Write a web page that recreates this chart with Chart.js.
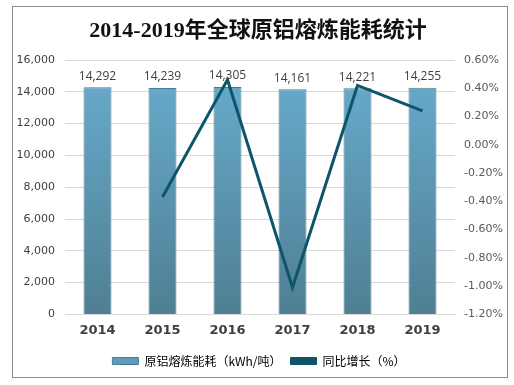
<!DOCTYPE html>
<html>
<head>
<meta charset="utf-8">
<script src="https://cdn.jsdelivr.net/npm/chart.js@4"></script>
<style>
  html, body { margin: 0; padding: 0; background: #fff; }
  #wrap { width: 514px; height: 385px; }
</style>
</head>
<body>
<div id="wrap"><canvas id="c" width="514" height="385"></canvas></div>
<script>
// chart values
const years = ['2014', '2015', '2016', '2017', '2018', '2019'];
const energyUse = [14292, 14239, 14305, 14161, 14221, 14255];
const yoyGrowth = [null, -0.37, 0.46, -1.01, 0.42, 0.24];
const leftTicks = [0, 2000, 4000, 6000, 8000, 10000, 12000, 14000, 16000];
const rightTicks = [-1.2, -1.0, -0.8, -0.6, -0.4, -0.2, 0, 0.2, 0.4, 0.6];

const title = '2014-2019年全球原铝熔炼能耗统计';
const barLabel = '原铝熔炼能耗（kWh/吨）';
const lineLabel = '同比增长（%）';

const lineColor = '#0d5569';

function barGradient(ctx) {
  const area = ctx.chart.chartArea;
  if (!area) return '#5f9ab6';
  const g = ctx.chart.ctx.createLinearGradient(0, area.top, 0, area.bottom);
  g.addColorStop(0, '#69adcf');
  g.addColorStop(1, '#4f7f93');
  return g;
}

// frame + title + value labels
const decor = {
  id: 'decor',
  beforeDraw(chart) {
    const c = chart.ctx;
    c.save();
    c.fillStyle = '#fff';
    c.fillRect(0, 0, chart.width, chart.height);
    c.strokeStyle = '#8a8a8a';
    c.lineWidth = 1;
    c.strokeRect(12.5, 6.5, 495, 371);
    c.fillStyle = '#111';
    c.font = 'bold 22px "Liberation Serif", "Noto Sans CJK SC", serif';
    c.textAlign = 'center';
    c.textBaseline = 'middle';
    c.fillText(title, 258, 31);
    c.restore();
  },
  afterDatasetsDraw(chart) {
    const c = chart.ctx;
    const meta = chart.getDatasetMeta(1); // bar dataset
    c.save();
    c.fillStyle = '#404040';
    c.font = '12px "Open Sans", "DejaVu Sans", sans-serif';
    c.textAlign = 'center';
    c.textBaseline = 'bottom';
    meta.data.forEach((bar, i) => {
      c.fillText(energyUse[i].toLocaleString('en-US'), bar.x, bar.y - 5);
    });
    c.restore();
  }
};

new Chart(document.getElementById('c'), {
  data: {
    labels: years,
    datasets: [
      {
        type: 'line',
        label: lineLabel,
        data: yoyGrowth,
        yAxisID: 'y2',
        borderColor: lineColor,
        backgroundColor: lineColor,
        borderWidth: 3,
        pointRadius: 0,
        tension: 0,
        order: 0
      },
      {
        type: 'bar',
        label: barLabel,
        data: energyUse,
        yAxisID: 'y',
        backgroundColor: barGradient,
        borderColor: '#4a7b90',
        borderWidth: 1,
        categoryPercentage: 1,
        barPercentage: 0.43,
        order: 1
      }
    ]
  },
  options: {
    responsive: false,
    animation: false,
    layout: { padding: { left: 12, right: 8, top: 60, bottom: 8 } },
    plugins: {
      title: { display: false },
      tooltip: { enabled: false },
      legend: {
        position: 'bottom',
        labels: {
          boxWidth: 26,
          boxHeight: 7,
          padding: 9,
          color: '#404040',
          font: { size: 12, family: '"Noto Sans CJK SC", sans-serif' },
          generateLabels(chart) {
            return [
              { text: barLabel, fillStyle: '#5f9ab6', strokeStyle: '#4a7b90', lineWidth: 1, datasetIndex: 1 },
              { text: lineLabel, fillStyle: lineColor, strokeStyle: lineColor, lineWidth: 1, datasetIndex: 0 }
            ];
          }
        }
      }
    },
    scales: {
      x: {
        grid: { display: false, drawTicks: false },
        border: { color: '#d9d9d9' },
        ticks: {
          padding: 8,
          color: '#404040',
          font: { size: 13, weight: 'bold', family: '"DejaVu Sans", sans-serif' }
        }
      },
      y: {
        position: 'left',
        min: 0,
        max: 16000,
        afterBuildTicks(axis) { axis.ticks = leftTicks.map(v => ({ value: v })); },
        afterFit(axis) { axis.width = 53; },
        grid: { color: '#d9d9d9', drawTicks: false },
        border: { display: false },
        ticks: {
          padding: 10,
          color: '#404040',
          font: { size: 11, family: '"DejaVu Sans", sans-serif' },
          callback: v => v.toLocaleString('en-US')
        }
      },
      y2: {
        position: 'right',
        min: -1.2,
        max: 0.6,
        afterBuildTicks(axis) { axis.ticks = rightTicks.map(v => ({ value: v })); },
        afterFit(axis) { axis.width = 51; },
        grid: { display: false, drawTicks: false },
        border: { display: false },
        ticks: {
          padding: 9,
          color: '#595959',
          font: { size: 11, family: '"DejaVu Sans", sans-serif' },
          callback: v => v.toFixed(2) + '%'
        }
      }
    }
  },
  plugins: [decor]
});
</script>
</body>
</html>
